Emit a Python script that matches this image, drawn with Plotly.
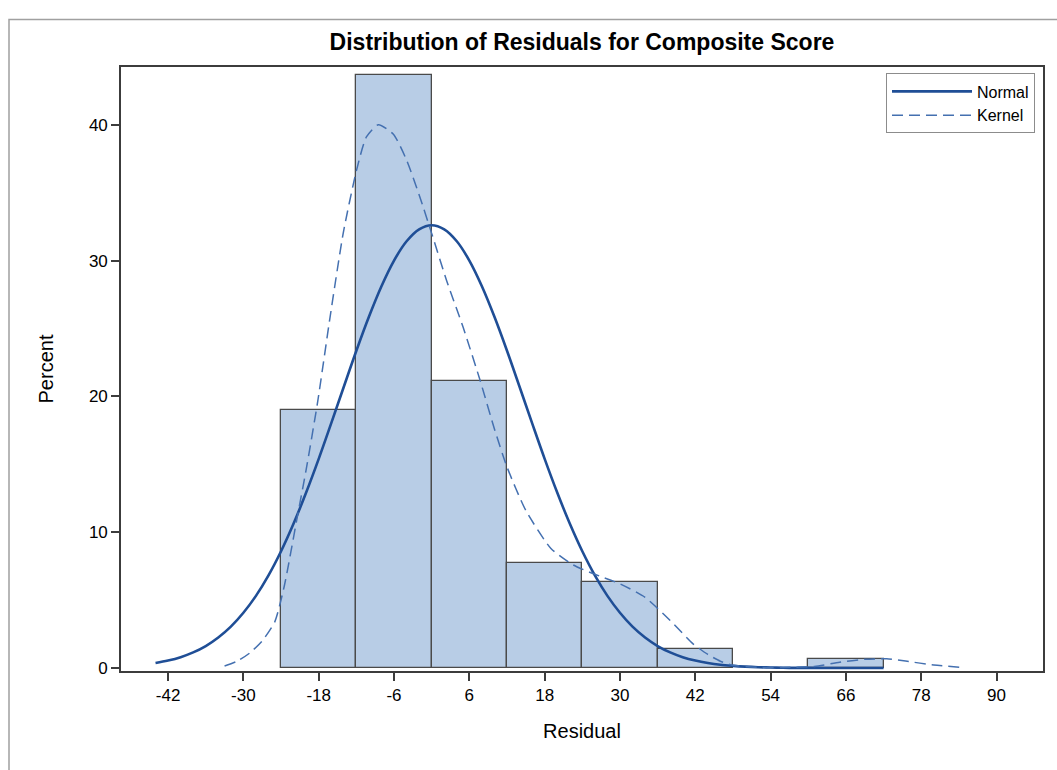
import plotly.graph_objects as go

# Histogram of residuals: bin midpoints (width 12) and percent of observations
bin_mid = [-18, -6, 6, 18, 30, 42, 54, 66]
bin_pct = [19.01, 43.66, 21.13, 7.75, 6.34, 1.41, 0.0, 0.70]
bin_width = 12

# Fitted normal density, scaled to percent per bin
normal_x = [-44, -42, -40, -38, -36, -34, -32, -30, -28, -26, -24, -22, -20,
            -18, -16, -14, -12, -10, -8, -6, -4, -2, 0, 2, 4, 6, 8, 10, 12, 14,
            16, 18, 20, 22, 24, 26, 28, 30, 32, 34, 36, 38, 40, 42, 44, 46, 48,
            50, 52, 54, 56, 58, 60, 64, 68, 72]
normal_y = [0.37, 0.55, 0.80, 1.15, 1.62, 2.25, 3.05, 4.07, 5.31, 6.82, 8.60,
            10.64, 12.92, 15.40, 18.03, 20.71, 23.36, 25.86, 28.11, 30.00,
            31.42, 32.30, 32.60, 32.30, 31.42, 30.00, 28.11, 25.86, 23.36,
            20.71, 18.03, 15.40, 12.92, 10.64, 8.60, 6.82, 5.31, 4.07, 3.05,
            2.25, 1.62, 1.15, 0.80, 0.55, 0.37, 0.24, 0.16, 0.10, 0.06, 0.04,
            0.02, 0.01, 0.01, 0.0, 0.0, 0.0]

# Kernel density estimate, scaled to percent per bin
kernel_x = [-33, -31, -29, -27, -25, -23.5, -21.5, -20, -18.2, -16.2, -14.1,
            -12, -10.4, -8.5, -6.1, -4, -1.9, 0, 2.4, 5, 7.7, 10, 12, 15, 19,
            22.5, 26, 30, 34, 38, 41.6, 44, 46, 48, 52, 56, 61, 65, 69, 72.5,
            75.5, 80, 85]
kernel_y = [0.15, 0.5, 1.1, 2.0, 3.4, 6.0, 10.9, 14.6, 19.5, 25.8, 32.0, 36.6,
            39.1, 40.0, 39.3, 37.4, 34.7, 32.0, 28.5, 25.1, 21.2, 17.6, 14.8,
            11.6, 8.8, 7.6, 6.9, 6.2, 5.2, 3.5, 1.8, 1.0, 0.5, 0.2, 0.05, 0.04,
            0.12, 0.42, 0.64, 0.68, 0.51, 0.22, 0.02]

x_ticks = [-42, -30, -18, -6, 6, 18, 30, 42, 54, 66, 78, 90]
y_ticks = [0, 10, 20, 30, 40]

FONT = "Liberation Sans, Arial, sans-serif"

bars_x = [m for m, p in zip(bin_mid, bin_pct) if p > 0]
bars_y = [p for p in bin_pct if p > 0]

fig = go.Figure()
fig.add_trace(go.Bar(
    x=bars_x, y=bars_y, width=bin_width,
    marker=dict(color="#b8cde6", line=dict(color="#4a4a4a", width=1.3)),
    showlegend=False, hoverinfo="x+y",
))
fig.add_trace(go.Scatter(
    x=normal_x, y=normal_y, mode="lines", name="Normal",
    line=dict(color="#1f4e96", width=2.6, shape="spline", smoothing=1.0),
))
fig.add_trace(go.Scatter(
    x=kernel_x, y=kernel_y, mode="lines", name="Kernel",
    line=dict(color="#4470b0", width=1.5, dash="11px,6px",
              shape="spline", smoothing=0.6),
))

# plot area in pixels: x 121..1043, y 66.5..671
PX0, PX1, PY0, PY1 = 121, 1043, 66.5, 671


def paper_x(px):
    return (px - PX0) / (PX1 - PX0)


def paper_y(py):
    return (PY1 - py) / (PY1 - PY0)


fig.update_layout(
    width=1057, height=770,
    margin=dict(l=PX0, r=1057 - PX1, t=PY0, b=770 - PY1),
    paper_bgcolor="white", plot_bgcolor="white",
    bargap=0,
    font=dict(family=FONT, color="#000000"),
    title=dict(
        text="<b>Distribution of Residuals for Composite Score</b>",
        x=0.5, xref="paper", xanchor="center",
        y=1 - 42 / 770, yref="container", yanchor="middle",
        font=dict(size=23, family=FONT, color="#000000"),
    ),
    legend=dict(
        x=paper_x(1035), y=paper_y(73), xanchor="right", yanchor="top",
        bgcolor="white", bordercolor="#8c8c8c", borderwidth=1,
        font=dict(size=16, family=FONT),
        itemwidth=80, tracegroupgap=0,
    ),
    shapes=[dict(
        type="rect", xref="paper", yref="paper",
        x0=paper_x(9), x1=paper_x(1080),
        y0=paper_y(800), y1=paper_y(19),
        line=dict(color="#a0a0a0", width=1.5), layer="below",
    )],
)

fig.update_xaxes(
    range=[-49.5, 97.4], tickvals=x_ticks, ticktext=[str(v) for v in x_ticks],
    showline=True, linecolor="#3c3c3c", linewidth=1.6, mirror=True,
    ticks="outside", ticklen=8, tickwidth=1.5, tickcolor="#3c3c3c",
    showgrid=False, zeroline=False,
    tickfont=dict(size=17, family=FONT),
    title=dict(text="Residual", font=dict(size=20, family=FONT), standoff=20),
)
fig.update_yaxes(
    range=[-0.22, 44.25], tickvals=y_ticks, ticktext=[str(v) for v in y_ticks],
    showline=True, linecolor="#3c3c3c", linewidth=1.6, mirror=True,
    ticks="outside", ticklen=8, tickwidth=1.5, tickcolor="#3c3c3c",
    showgrid=False, zeroline=False,
    tickfont=dict(size=17, family=FONT),
    title=dict(text="Percent", font=dict(size=20, family=FONT), standoff=30),
)

fig.write_html("out.html")
